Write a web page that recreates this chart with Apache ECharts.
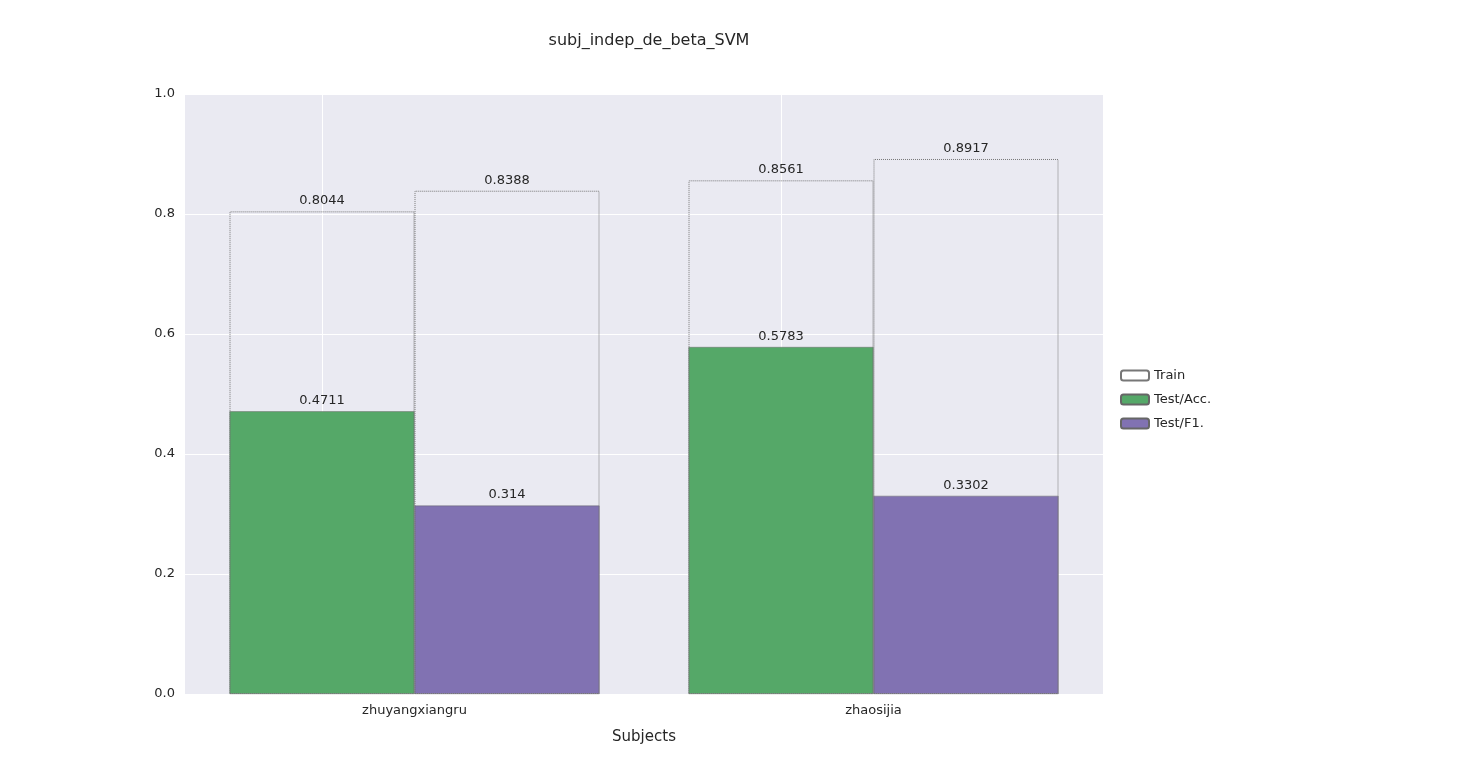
<!DOCTYPE html>
<html>
<head>
<meta charset="utf-8">
<script src="https://cdn.jsdelivr.net/npm/echarts@6/dist/echarts.min.js"></script>
<style>
  html, body { margin: 0; padding: 0; background: #fff; }
  #chart { width: 1480px; height: 780px; }
</style>
</head>
<body>
<div id="chart"></div>
<script>
// 数据
const subjects = ['zhuyangxiangru', 'zhaosijia']
const trainAcc = [0.8044, 0.8561]
const trainF1 = [0.8388, 0.8917]
const testAcc = [0.4711, 0.5783]
const testF1 = [0.314, 0.3302]
const yTicks = [0, 0.2, 0.4, 0.6, 0.8, 1.0]

const labelStyle = {
  show: true, position: 'top', color: '#262626', fontSize: 13,
  fontFamily: 'DejaVu Sans', distance: 4
}

const trainStyle = {
  color: 'rgba(255,255,255,0)', borderColor: '#777', borderWidth: 1, borderType: 'dotted'
}

const chart = echarts.init(document.getElementById('chart'))
chart.setOption({
  backgroundColor: '#fff',
  animation: false,
  title: {
    text: 'subj_indep_de_beta_SVM', left: 644, top: 28, textAlign: 'center',
    textStyle: { fontFamily: 'DejaVu Sans', fontSize: 16, fontWeight: 'normal', color: '#262626' }
  },
  legend: {
    orient: 'vertical', left: 1115, top: 364, itemWidth: 28, itemHeight: 10, itemGap: 11,
    textStyle: { fontFamily: 'DejaVu Sans', fontSize: 13, color: '#262626' },
    data: ['Train', 'Test/Acc.', 'Test/F1.']
  },
  grid: { left: 185, right: 377, top: 94, bottom: 86, show: true, backgroundColor: '#EAEAF2', borderWidth: 0 },
  xAxis: [
    {
      type: 'category', data: subjects,
      axisLine: { show: false }, axisTick: { show: false },
      axisLabel: { color: '#262626', fontSize: 13, fontFamily: 'DejaVu Sans', margin: 10 },
      name: 'Subjects', nameLocation: 'middle', nameGap: 36,
      nameTextStyle: { color: '#262626', fontSize: 15, fontFamily: 'DejaVu Sans' }
    },
    { type: 'category', data: subjects, show: false }
  ],
  yAxis: {
    type: 'value', min: 0, max: 1, interval: 0.2,
    axisLine: { show: false }, axisTick: { show: false },
    axisLabel: { color: '#262626', fontSize: 13, fontFamily: 'DejaVu Sans', margin: 10,
      formatter: v => yTicks.includes(+v.toFixed(1)) ? v.toFixed(1) : '' },
    splitLine: { lineStyle: { color: '#fff', width: 1 } }
  },
  series: [
    {
      name: 'Test/Acc.', type: 'bar', xAxisIndex: 0, data: testAcc,
      barWidth: 185, barGap: '0%', z: 2,
      itemStyle: { color: '#55A868', borderColor: '#666', borderWidth: 0.5 },
      label: labelStyle,
      markLine: {
        silent: true, symbol: 'none', label: { show: false }, z: 1,
        lineStyle: { color: '#fff', width: 1, type: 'solid' },
        data: subjects.map(s => ({ xAxis: s }))
      }
    },
    {
      name: 'Test/F1.', type: 'bar', xAxisIndex: 0, data: testF1,
      barWidth: 185, barGap: '0%', z: 2,
      itemStyle: { color: '#8172B2', borderColor: '#666', borderWidth: 0.5 },
      label: labelStyle
    },
    {
      name: 'Train', type: 'bar', xAxisIndex: 1, data: trainAcc,
      barWidth: 185, barGap: '0%', z: 3,
      itemStyle: trainStyle, label: labelStyle
    },
    {
      name: 'Train', type: 'bar', xAxisIndex: 1, data: trainF1,
      barWidth: 185, barGap: '0%', z: 3,
      itemStyle: trainStyle, label: labelStyle
    }
  ]
})
</script>
</body>
</html>
